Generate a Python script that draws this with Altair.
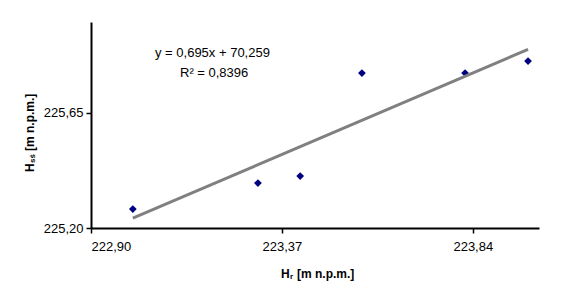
import altair as alt
import pandas as pd

# Data
hr = [223.003, 223.311, 223.415, 223.567, 223.821, 223.976]
hss = [225.274, 225.376, 225.403, 225.806, 225.806, 225.853]
x_ticks = [222.90, 223.37, 223.84]
y_ticks = [225.20, 225.65]
x_domain = [222.90, 224.003]
y_domain = [225.20, 226.006]
eq_text = "y = 0,695x + 70,259"
r2_text = "R\u00b2 = 0,8396"

df = pd.DataFrame({"x": hr, "y": hss})

FONT = "Liberation Sans"
fmt = "replace(format(datum.value, '.2f'), '.', ',')"

xs = alt.Scale(domain=x_domain, nice=False, zero=False)
ys = alt.Scale(domain=y_domain, nice=False, zero=False)

x_enc = alt.X("x:Q", scale=xs, axis=alt.Axis(values=x_ticks, labelExpr=fmt, title=None,
                                              labelPadding=7))
y_enc = alt.Y("y:Q", scale=ys, axis=alt.Axis(values=y_ticks, labelExpr=fmt, title=None,
                                              labelPadding=3))

points = alt.Chart(df).mark_point(shape="diamond", filled=True, color="#000080",
                                  size=60, opacity=1).encode(x=x_enc, y=y_enc)

trend = alt.Chart(df).transform_regression("x", "y").mark_line(
    color="#808080", strokeWidth=3).encode(x=alt.X("x:Q", scale=xs), y=alt.Y("y:Q", scale=ys))

one = pd.DataFrame({"a": [0]})

def txt(text, x, y, size=13, bold=False, angle=0, align="left", baseline="middle"):
    kw = dict(font=FONT, fontSize=size, color="black", align=align, baseline=baseline,
              fontWeight="bold" if bold else "normal")
    if angle:
        kw["angle"] = angle
    return alt.Chart(one).mark_text(**kw).encode(
        x=alt.value(x), y=alt.value(y), text=alt.value(text))

layers = [
    points, trend,
    txt(eq_text, 64, 31),
    txt(r2_text, 89, 51),
    # x-axis title
    txt("H", 190, 252, size=12, bold=True),
    txt("r", 199, 255, size=8, bold=True),
    txt("[m  n.p.m.]", 206, 252, size=12, bold=True),
    # y-axis title
    txt("H", -61, 150, size=12, bold=True, angle=270),
    txt("sś", -58, 141, size=8, bold=True, angle=270),
    txt("[m  n.p.m.]", -61, 129, size=12, bold=True, angle=270),
]

chart = alt.layer(*layers).properties(
    width=448, height=206,
    autosize=alt.AutoSizeParams(type="none"),
    padding={"left": 91, "top": 22, "right": 45, "bottom": 74},
    background="white",
).configure_view(stroke=None).configure_axis(
    grid=False, domainColor="black", domainWidth=2, tickColor="black", tickWidth=1.5,
    tickSize=5, labelFont=FONT, labelFontSize=13, labelColor="black",
)

chart.save("out.html", embed_options={"renderer": "svg", "actions": False})
